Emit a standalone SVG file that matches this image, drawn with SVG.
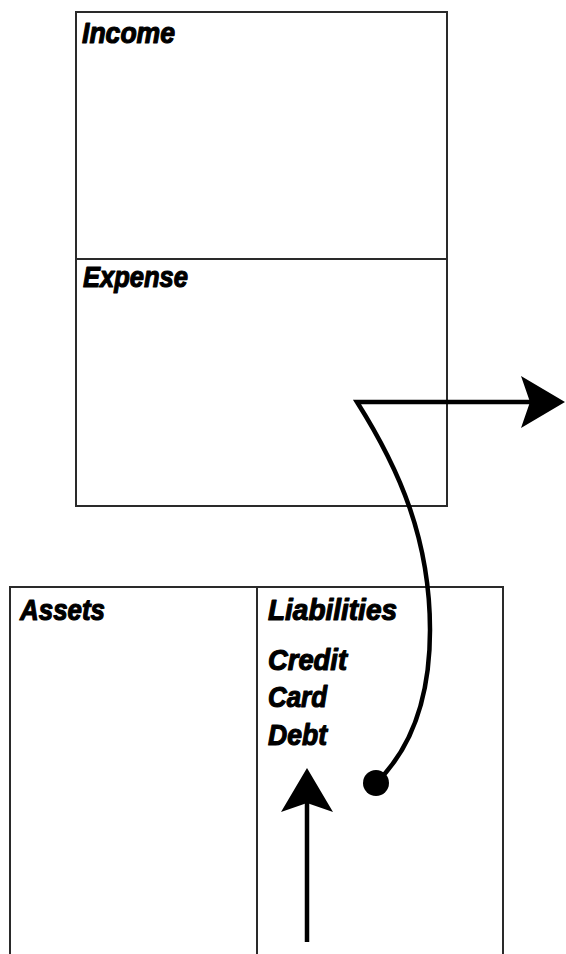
<svg xmlns="http://www.w3.org/2000/svg" width="566" height="954" viewBox="0 0 566 954">
<defs>
<style>
.box{fill:none;stroke:#2a2a2a;stroke-width:2}
.lbl{font-family:"Liberation Sans",Arial,sans-serif;font-weight:bold;font-style:italic;font-size:30px;fill:#000;stroke:#000;stroke-width:1.2;stroke-linejoin:round}
.con{fill:none;stroke:#000;stroke-width:4.5}
</style>
<marker id="arr" markerUnits="userSpaceOnUse" markerWidth="46" markerHeight="54" refX="24" refY="26" orient="auto">
<path d="M0,0 L44,26 L0,52 L9,26 Z" fill="#000"/>
</marker>
</defs>
<rect width="566" height="954" fill="#fff"/>
<g id="income-expense">
<rect class="box" x="76" y="12" width="371" height="494"/>
<line class="box" x1="76" y1="259" x2="447" y2="259"/>
</g>
<g id="income"><text class="lbl" x="82" y="43" textLength="93" lengthAdjust="spacingAndGlyphs">Income</text></g>
<g id="expense"><text class="lbl" x="83" y="287" textLength="105" lengthAdjust="spacingAndGlyphs">Expense</text></g>
<g id="balance-sheet">
<rect class="box" x="10" y="587" width="493" height="420"/>
<line class="box" x1="257" y1="587" x2="257" y2="960"/>
</g>
<g id="assets"><text class="lbl" x="20" y="620" textLength="85" lengthAdjust="spacingAndGlyphs">Assets</text></g>
<g id="liabilities">
<text class="lbl" x="268" y="620" textLength="129" lengthAdjust="spacingAndGlyphs">Liabilities</text>
<text class="lbl" x="268" y="670" textLength="79" lengthAdjust="spacingAndGlyphs">Credit</text>
<text class="lbl" x="268" y="707" textLength="59" lengthAdjust="spacingAndGlyphs">Card</text>
<text class="lbl" x="268" y="745" textLength="59" lengthAdjust="spacingAndGlyphs">Debt</text>
</g>
<g id="connectors">
<path class="con" d="M376,783 C410,750 430,700 430,630 C430,540 400,470 357,402 L545,402" stroke-linejoin="miter" marker-end="url(#arr)"/>
<circle cx="376" cy="783" r="13" fill="#000"/>
<line class="con" x1="307" y1="942" x2="307" y2="788" marker-end="url(#arr)"/>
</g>
</svg>
